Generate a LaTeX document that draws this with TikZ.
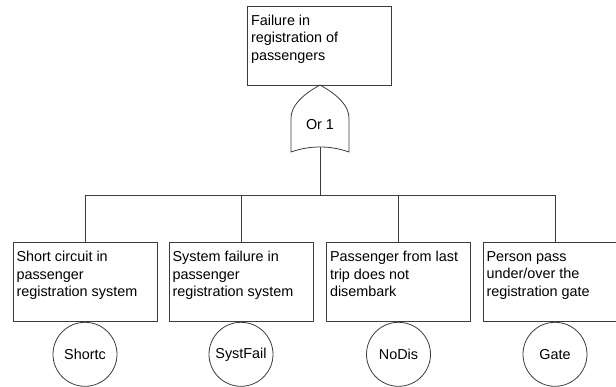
\documentclass[tikz,border=0pt]{standalone}
\usepackage{fontspec}
\setmainfont{Liberation Sans}
\usepackage{tikz}
\usetikzlibrary{positioning}
\definecolor{treeInk}{HTML}{3C3C3C}
\newcommand{\evText}[1]{\parbox[c][71pt][t]{137pt}{\raggedright\vspace*{5pt}#1}}
\tikzset{
  every node/.append style={font=\fontsize{14.4}{17.5}\selectfont},
  eventBox/.style={draw=treeInk,line width=0.8pt,fill=white,
                   inner xsep=3.5pt,inner ysep=4pt,anchor=center},
  basicEvent/.style={draw=treeInk,line width=0.8pt,circle,
                     minimum size=64pt,inner sep=0pt},
  orGate/.style={draw=treeInk,line width=0.8pt,line join=round},
  treeLine/.style={draw=treeInk,line width=0.8pt},
}
\begin{document}
\begin{tikzpicture}[x=1pt,y=-1pt]
\useasboundingbox (0,0) rectangle (616,387);

% top event and its OR gate
\node[eventBox] (topEv) at (319.5,45.5)
  {\evText{Failure in\\registration of\\passengers}};
\coordinate (gateTop) at (320,85);
\coordinate (gateOut) at (320,147.5);
\draw[orGate] (gateTop) .. controls (302,95) and (291,106) .. (291,118)
  -- (291,152) .. controls (310,145.3) and (330,145.3) .. (349,152)
  -- (349,118) .. controls (349,106) and (338,95) .. (gateTop);
\node (gate) at (320,125) {Or 1};

% intermediate events
\node[eventBox] (shortEv) at (85,282)
  {\evText{Short circuit in\\passenger\\registration system}};
\node[eventBox] (systEv) at (241,282)
  {\evText{System failure in\\passenger\\registration system}};
\node[eventBox] (nodisEv) at (398.5,282)
  {\evText{Passenger from last\\trip does not\\disembark}};
\node[eventBox] (gateEv) at (555,282)
  {\evText{Person pass\\under/over the\\registration gate}};

% basic events
\node[basicEvent,below=0pt of shortEv] (shortc) {Shortc};
\node[basicEvent,below=0pt of systEv]  (systfail) {SystFail};
\node[basicEvent,below=0pt of nodisEv] (nodis) {NoDis};
\node[basicEvent,below=0pt of gateEv]  (gatec) {Gate};

% connectors
\coordinate (bus) at (320,195);
\draw[treeLine] (gateOut) -- (bus);
\draw[treeLine] (shortEv.north) |- (bus);
\draw[treeLine] (gateEv.north) |- (bus);
\draw[treeLine] (systEv.north) -- (systEv.north |- bus);
\draw[treeLine] (nodisEv.north) -- (nodisEv.north |- bus);

\end{tikzpicture}
\end{document}
